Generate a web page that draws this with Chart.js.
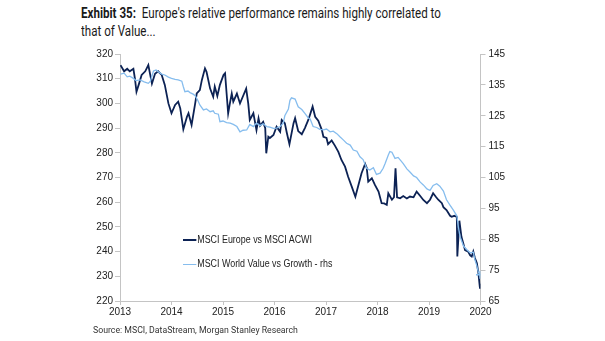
<!DOCTYPE html>
<html>

<head>
  <meta charset="UTF-8">
  <script src="https://cdn.jsdelivr.net/npm/chart.js"></script>
  <style>
    body { margin: 0; background: #fff; }
    .wrap { position: relative; width: 605px; height: 341px; overflow: hidden; }
    .title { position: absolute; left: 81px; top: 5px; font: 14.5px Roboto; line-height: 18px; color: #1a1a1a; white-space: nowrap; transform: scaleX(0.8); transform-origin: 0 0; }
    .title b { font-weight: bold; }
    .chartBox { position: absolute; left: 0; top: 0; width: 605px; height: 341px; }
    .legend { position: absolute; left: 183px; font: 10px "Liberation Sans"; color: #222; white-space: nowrap; transform: scaleX(0.89); transform-origin: 0 50%; }
    .legend i { display: inline-block; width: 15px; vertical-align: middle; margin-right: 1px; }
    .source { position: absolute; left: 93px; top: 325px; font: 9px Roboto; color: #333; white-space: nowrap; transform: scaleX(0.97); transform-origin: 0 0; }
  </style>
</head>

<body>
  <div class="wrap">
    <div class="title"><b>Exhibit 35:</b>&nbsp; Europe's relative performance remains highly correlated to<br>that of Value...</div>
    <div class="chartBox"><canvas id="myChart"></canvas></div>
    <div class="legend" style="top:234px"><i style="height:2px;background:#0c2254"></i>MSCI Europe vs MSCI ACWI</div>
    <div class="legend" style="top:258px"><i style="height:1.5px;background:#86bdee"></i>MSCI World Value vs Growth - rhs</div>
    <div class="source">Source: MSCI, DataStream, Morgan Stanley Research</div>
  </div>
  <script>
    // MSCI Europe vs MSCI ACWI (lhs)
    const europeDates = [2013.01, 2013.08, 2013.14, 2013.19, 2013.26, 2013.29, 2013.32, 2013.37, 2013.42, 2013.49,
      2013.55, 2013.62, 2013.68, 2013.74, 2013.81, 2013.87, 2013.94, 2014.00, 2014.07, 2014.13,
      2014.17, 2014.23, 2014.30, 2014.33, 2014.39, 2014.46, 2014.49, 2014.55, 2014.59, 2014.65,
      2014.68, 2014.75, 2014.81, 2014.84, 2014.89, 2014.94, 2015.01, 2015.04, 2015.07, 2015.10,
      2015.14, 2015.17, 2015.20, 2015.27, 2015.33, 2015.39, 2015.45, 2015.49, 2015.52, 2015.59,
      2015.62, 2015.65, 2015.69, 2015.72, 2015.78, 2015.82, 2015.84, 2015.88, 2015.91, 2015.98,
      2016.04, 2016.11, 2016.14, 2016.20, 2016.24, 2016.29, 2016.37, 2016.40, 2016.46, 2016.53,
      2016.59, 2016.66, 2016.74, 2016.79, 2016.85, 2016.92, 2016.95, 2017.01, 2017.04, 2017.11,
      2017.17, 2017.24, 2017.30, 2017.37, 2017.43, 2017.50, 2017.57, 2017.63, 2017.69, 2017.76,
      2017.79, 2017.82, 2017.89, 2017.95, 2018.02, 2018.08, 2018.13, 2018.18, 2018.21, 2018.28,
      2018.32, 2018.35, 2018.38, 2018.44, 2018.50, 2018.57, 2018.63, 2018.70, 2018.76, 2018.83,
      2018.89, 2018.96, 2019.02, 2019.08, 2019.14, 2019.18, 2019.25, 2019.28, 2019.34, 2019.41,
      2019.44, 2019.49, 2019.54, 2019.55, 2019.59, 2019.63, 2019.67, 2019.70, 2019.76, 2019.80,
      2019.83, 2019.86, 2019.89, 2019.93, 2019.96, 2019.98, 2019.99];
    const europeValues = [315.5, 313, 314, 313, 314, 310, 304.7, 308, 311.5, 313,
      315.5, 308, 312, 313, 311.5, 307.5, 300, 296, 299.4, 300.7,
      298, 289.5, 294.6, 296, 291.3, 300, 304, 305.4, 309.5, 314.2,
      312.8, 306, 302.7, 306.8, 303, 307.5, 311.5, 312.2, 304, 296,
      300.7, 304, 300.7, 304, 300, 303, 306, 300, 293.3, 296,
      292.6, 289.2, 294, 291, 292.5, 290, 279.8, 286.5, 286, 287.2,
      290.6, 288.5, 293.3, 292, 288, 283.5, 292, 294, 288.8, 287.5,
      290, 293.5, 298.7, 294.6, 293, 289.2, 286.5, 286, 283.5, 285,
      283, 280.4, 277.1, 274.4, 270.3, 266.3, 262.2, 267, 271.7, 275.5,
      274, 268.3, 269.7, 267, 264.3, 259.6, 259.5, 258.9, 263.6, 261,
      262, 273.7, 262, 261.6, 262.5, 261.5, 262.3, 262, 264.3, 262.5,
      260.9, 259.6, 261, 263.6, 262, 261, 259.6, 258, 256.8, 254.5,
      254.1, 254.5, 254, 238, 252.5, 246, 243, 240.6, 240, 238.5,
      238, 240, 237.5, 235.3, 231.2, 227, 225];

    // MSCI World Value vs Growth (rhs)
    const valueDates = [2013.01, 2013.08, 2013.14, 2013.19, 2013.26, 2013.31, 2013.39, 2013.47, 2013.55, 2013.59,
      2013.65, 2013.70, 2013.74, 2013.81, 2013.87, 2013.94, 2014.00, 2014.07, 2014.13, 2014.20,
      2014.23, 2014.26, 2014.32, 2014.36, 2014.42, 2014.46, 2014.51, 2014.55, 2014.62, 2014.68,
      2014.75, 2014.81, 2014.84, 2014.91, 2014.94, 2015.00, 2015.07, 2015.14, 2015.20, 2015.27,
      2015.33, 2015.39, 2015.46, 2015.52, 2015.59, 2015.65, 2015.72, 2015.78, 2015.85, 2015.91,
      2015.98, 2016.04, 2016.11, 2016.17, 2016.20, 2016.27, 2016.30, 2016.33, 2016.40, 2016.46,
      2016.53, 2016.59, 2016.66, 2016.69, 2016.75, 2016.82, 2016.88, 2016.95, 2017.01, 2017.08,
      2017.14, 2017.21, 2017.27, 2017.34, 2017.40, 2017.47, 2017.53, 2017.60, 2017.66, 2017.72,
      2017.79, 2017.85, 2017.92, 2017.98, 2018.05, 2018.11, 2018.15, 2018.21, 2018.24, 2018.28,
      2018.34, 2018.40, 2018.44, 2018.50, 2018.57, 2018.63, 2018.70, 2018.76, 2018.83, 2018.89,
      2018.96, 2019.02, 2019.08, 2019.15, 2019.21, 2019.28, 2019.34, 2019.41, 2019.47, 2019.54,
      2019.57, 2019.60, 2019.67, 2019.74, 2019.80, 2019.86, 2019.89, 2019.93, 2019.96, 2019.99];
    const valueValues = [138.5, 138.8, 137.6, 137.8, 137.1, 136.4, 136.6, 136, 135.5, 136.2,
      139.5, 139.8, 139.3, 138.5, 138.2, 137.5, 137.1, 136.8, 136.6, 136.2,
      134.4, 132.8, 133, 132.5, 132, 131.5, 130, 128.5, 126.9, 127.2,
      126.3, 126.6, 125.8, 125.5, 123.1, 123.3, 122.8, 122.6, 122.2, 121.5,
      119.8, 120.3, 120.4, 122.2, 121.5, 122.6, 121.8, 122.4, 121.5, 121.3,
      120.9, 121, 121.5, 122.6, 125, 127.2, 130, 130.8, 130.4, 127.9,
      127, 125.8, 124.2, 124, 121.5, 121.2, 120.6, 120.4, 120.7, 119.8,
      120, 119.2, 118.2, 117.1, 116.1, 115.5, 113.9, 113.5, 111.7, 110.8,
      108, 107.4, 108.2, 106, 106.4, 108, 109.6, 112.3, 113.4, 113.2,
      111.2, 111.5, 110.7, 109.5, 107.8, 106.8, 105.5, 105, 103.5, 102.6,
      101.3, 100.8, 102.4, 103, 102.2, 100.6, 97.8, 96, 94.5, 92.6,
      89, 86, 82.8, 81.5, 80.6, 80.8, 78.5, 76.3, 74.2, 73.5];

    const years = [2013, 2020];
    const leftRange = [220, 320];
    const rightRange = [65, 145];

    const axisGrey = '#c4c4c4';
    const tickFont = { family: 'Liberation Sans', size: 10 };

    new Chart(document.getElementById('myChart'), {
      type: 'line',
      data: {
        datasets: [{
          label: 'MSCI World Value vs Growth - rhs',
          data: valueDates.map((d, i) => ({ x: d, y: valueValues[i] })),
          borderColor: '#86bdee',
          borderWidth: 1.3,
          pointRadius: (ctx) => ctx.dataIndex === valueValues.length - 1 ? 4 : 0,
          pointStyle: 'cross',
          pointBorderColor: '#86bdee',
          yAxisID: 'y2'
        },
        {
          label: 'MSCI Europe vs MSCI ACWI',
          data: europeDates.map((d, i) => ({ x: d, y: europeValues[i] })),
          borderColor: '#0c2254',
          borderWidth: 1.8,
          pointRadius: 0,
          yAxisID: 'y'
        }]
      },
      options: {
        responsive: true,
        maintainAspectRatio: false,
        animation: false,
        layout: { padding: { top: 54, bottom: 20, left: 0, right: 0 } },
        plugins: { legend: { display: false }, tooltip: { enabled: false } },
        scales: {
          x: {
            type: 'linear',
            min: years[0],
            max: years[1],
            afterFit: (s) => { s.height = 20; },
            ticks: { stepSize: 1, callback: (v) => String(v), font: tickFont, color: '#222', padding: 1, maxRotation: 0 },
            grid: { drawOnChartArea: false, tickLength: 4, color: axisGrey },
            border: { color: axisGrey }
          },
          y: {
            position: 'left',
            min: leftRange[0],
            max: leftRange[1],
            afterFit: (s) => { s.width = 120; },
            ticks: { stepSize: 10, font: tickFont, color: '#222', padding: 2 },
            grid: { drawOnChartArea: false, tickLength: 5, color: axisGrey },
            border: { color: axisGrey }
          },
          y2: {
            position: 'right',
            min: rightRange[0],
            max: rightRange[1],
            afterFit: (s) => { s.width = 124.5; },
            ticks: { stepSize: 10, font: tickFont, color: '#222', padding: 3 },
            grid: { drawOnChartArea: false, tickLength: 5, color: axisGrey },
            border: { color: axisGrey }
          }
        }
      }
    });
  </script>
</body>

</html>
